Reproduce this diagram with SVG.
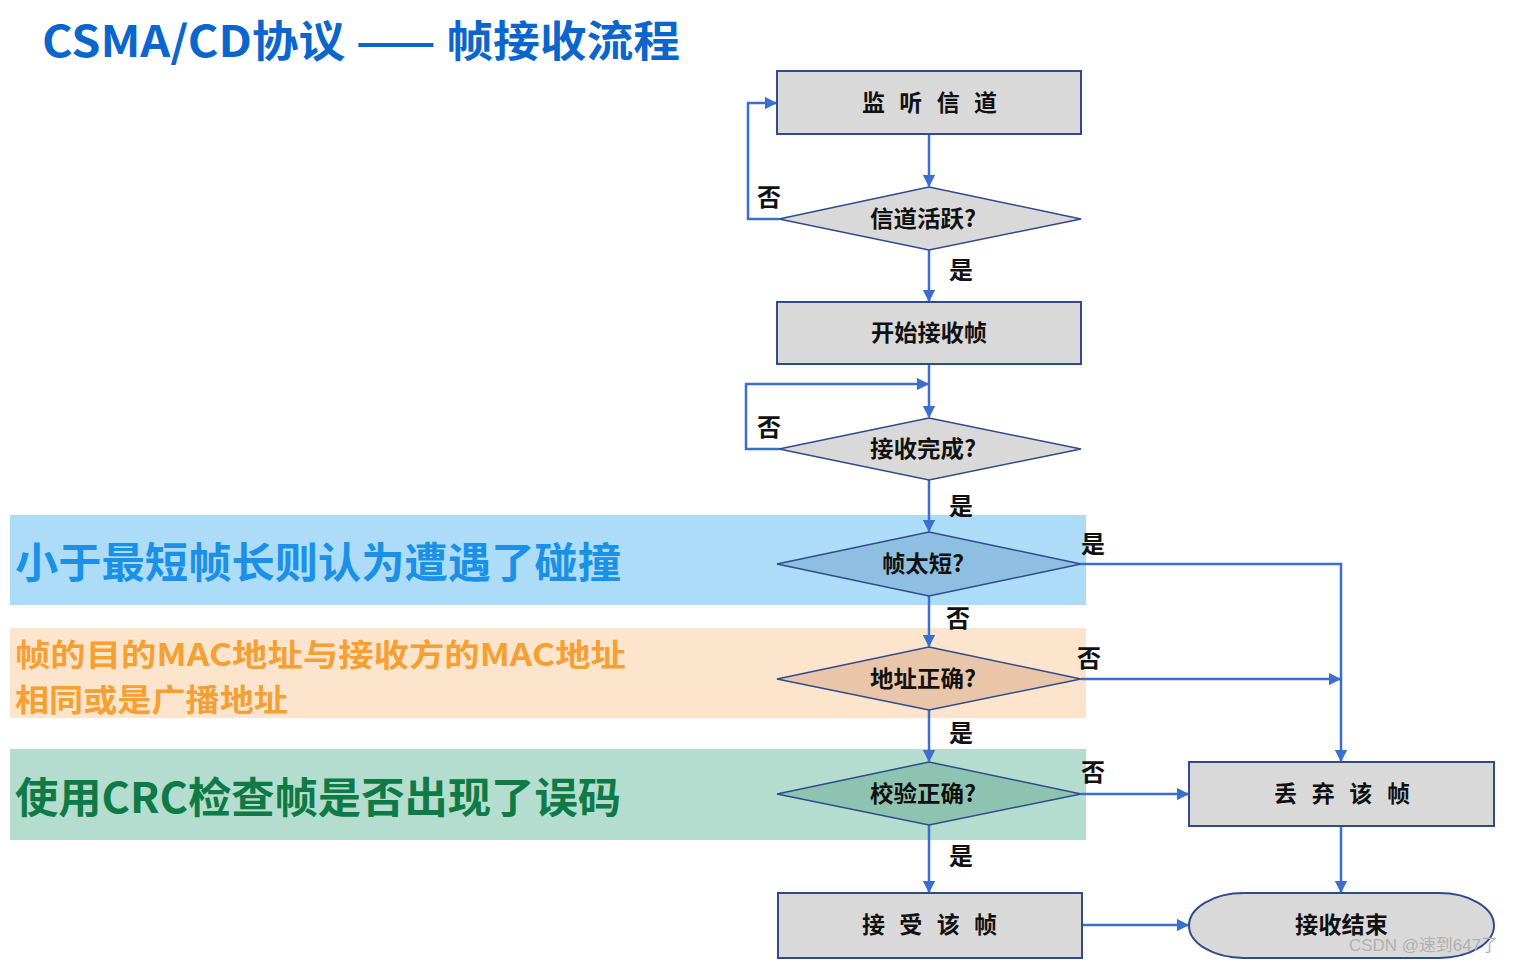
<svg xmlns="http://www.w3.org/2000/svg" width="1514" height="963" viewBox="0 0 1514 963">
<defs>
<marker id="ah" viewBox="0 0 10 10" refX="9" refY="5" markerWidth="5" markerHeight="5" orient="auto" markerUnits="strokeWidth">
<path d="M0,0 L10,5 L0,10 z" fill="#3a6fcf"/>
</marker>
<style>
.t{font-family:"Noto Sans CJK SC","Noto Sans",sans-serif;font-weight:bold}
.box{fill:#d9d9d9;stroke:#2f4b8c;stroke-width:2}
.dia{stroke:#2f4b8c;stroke-width:1.5}
.lbl{font-size:23px;fill:#111}
.yn{font-size:24px;fill:#111;text-anchor:middle}
.ca{fill:none;stroke:#3a6fcf;stroke-width:2.5;marker-end:url(#ah)}
</style>
</defs>
<rect width="1514" height="963" fill="#ffffff"/>
<text class="t" x="42" y="57" font-size="43" fill="#0a66cc" textLength="638" lengthAdjust="spacingAndGlyphs">CSMA/CD协议 —— 帧接收流程</text>

<g id="bands">
<rect x="10" y="515" width="1076" height="90" fill="#acdcf8"/>
<rect x="10" y="628" width="1076" height="90" fill="#fde5cd"/>
<rect x="10" y="749" width="1076" height="91" fill="#b4dccf"/>
<text class="t" x="15" y="578" font-size="42" fill="#1a90e6" textLength="606" lengthAdjust="spacingAndGlyphs">小于最短帧长则认为遭遇了碰撞</text>
<text class="t" x="15" y="666" font-size="31" fill="#f5a032" textLength="611" lengthAdjust="spacingAndGlyphs">帧的目的MAC地址与接收方的MAC地址</text>
<text class="t" x="15" y="711" font-size="31" fill="#f5a032" textLength="273" lengthAdjust="spacingAndGlyphs">相同或是广播地址</text>
<text class="t" x="15" y="813" font-size="42" fill="#0e7a45" textLength="606" lengthAdjust="spacingAndGlyphs">使用CRC检查帧是否出现了误码</text>
</g>

<g id="connectors">
<path class="ca" d="M929,134 L929,186"/>
<path class="ca" d="M779,219 L748,219 L748,103 L776,103"/>
<path class="ca" d="M929,250 L929,301"/>
<path class="ca" d="M929,364 L929,417"/>
<path class="ca" d="M779,449 L746,449 L746,384 L928,384"/>
<path class="ca" d="M929,480 L929,531"/>
<path class="ca" d="M1081,564 L1341,564 L1341,761"/>
<path class="ca" d="M929,596 L929,646"/>
<path class="ca" d="M1081,679 L1340,679"/>
<path class="ca" d="M929,710 L929,761"/>
<path class="ca" d="M1081,794 L1188,794"/>
<path class="ca" d="M929,825 L929,892"/>
<path class="ca" d="M1341,826 L1341,892"/>
<path class="ca" d="M1082,925 L1188,925"/>
<g class="t">
<text class="yn" x="769" y="206">否</text>
<text class="yn" x="961" y="279">是</text>
<text class="yn" x="769" y="436">否</text>
<text class="yn" x="961" y="515">是</text>
<text class="yn" x="1093" y="553">是</text>
<text class="yn" x="958" y="627">否</text>
<text class="yn" x="1089" y="667">否</text>
<text class="yn" x="961" y="742">是</text>
<text class="yn" x="1093" y="781">否</text>
<text class="yn" x="961" y="865">是</text>
</g>
</g>

<g id="n1"><rect class="box" x="777" y="71" width="304" height="63"/><text class="t lbl" x="862" y="111" textLength="135">监 听 信 道</text></g>
<g id="n2"><polygon class="dia" fill="#d9d9d9" points="929,187 1081,219 929,250 779,219"/><text class="t lbl" x="870" y="227" textLength="106" lengthAdjust="spacingAndGlyphs">信道活跃?</text></g>
<g id="n3"><rect class="box" x="777" y="302" width="304" height="62"/><text class="t lbl" x="871" y="341" textLength="116" lengthAdjust="spacingAndGlyphs">开始接收帧</text></g>
<g id="n4"><polygon class="dia" fill="#d9d9d9" points="929,418 1081,449 929,480 779,449"/><text class="t lbl" x="870" y="457" textLength="106" lengthAdjust="spacingAndGlyphs">接收完成?</text></g>
<g id="n5"><polygon class="dia" fill="#8ebfe2" points="929,532 1081,564 929,596 777,564"/><text class="t lbl" x="882" y="572" fill="#1e3550" textLength="82" lengthAdjust="spacingAndGlyphs">帧太短?</text></g>
<g id="n6"><polygon class="dia" fill="#e9c6aa" points="929,647 1081,679 929,710 777,679"/><text class="t lbl" x="870" y="687" fill="#4a2e12" textLength="106" lengthAdjust="spacingAndGlyphs">地址正确?</text></g>
<g id="n7"><polygon class="dia" fill="#8ec3b1" points="929,762 1081,794 929,825 777,794"/><text class="t lbl" x="870" y="802" fill="#173a2a" textLength="106" lengthAdjust="spacingAndGlyphs">校验正确?</text></g>
<g id="n8"><rect class="box" x="778" y="893" width="304" height="65"/><text class="t lbl" x="862" y="933" textLength="135">接 受 该 帧</text></g>
<g id="n9"><rect class="box" x="1189" y="762" width="305" height="64"/><text class="t lbl" x="1274" y="802" textLength="136">丢 弃 该 帧</text></g>
<g id="n10"><rect class="box" x="1189" y="893" width="305" height="65" rx="55" ry="32.5"/><text class="t lbl" x="1295" y="933" textLength="93" lengthAdjust="spacingAndGlyphs">接收结束</text></g>

<text x="1349" y="951" font-family="Liberation Sans,&quot;Noto Sans CJK SC&quot;,sans-serif" font-size="17" fill="#b0b0b0" textLength="149" lengthAdjust="spacingAndGlyphs">CSDN @速到647了</text>
</svg>
